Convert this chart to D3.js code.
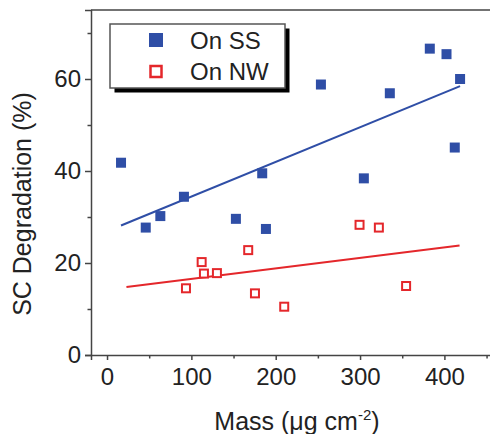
<!DOCTYPE html>
<html>
<head>
<meta charset="utf-8">
<script src="https://cdn.jsdelivr.net/npm/d3@7"></script>
<style>
  html, body { margin: 0; padding: 0; background: #fff; }
  svg { display: block; font-family: "Liberation Sans", Arial, sans-serif; }
</style>
</head>
<body>
<svg id="chart" width="490" height="434"></svg>
<script>
// values
const seriesNames = ["On SS", "On NW"];

const ssMass = [16.6, 45.9, 63.2, 91.2, 152.8, 184, 188.4, 253.6, 304.5, 335.3, 382.7, 402.5, 412.3, 418.6];
const ssDeg  = [41.8, 27.7, 30.2, 34.4, 29.6, 39.5, 27.4, 58.8, 38.4, 56.9, 66.6, 65.4, 45.1, 60.0];

const nwMass = [93.6, 112.2, 114.9, 130.3, 167.4, 175.4, 210.1, 299.4, 322.3, 354.6];
const nwDeg  = [14.5, 20.2, 17.7, 17.8, 22.8, 13.4, 10.5, 28.3, 27.7, 15.0];
const nwFitRange = [23, 418];

const xTicks = [0, 100, 200, 300, 400];
const xMinor = [50, 150, 250, 350, 450];
const yTicks = [0, 20, 40, 60];
const yMinor = [10, 30, 50, 70];

const blue = "#2f4ea6";
const red = "#e4272b";
const axisCol = "#444";

let svg = d3.select("#chart")

let x = d3.scaleLinear().domain([-19, 460]).range([91, 495])
let y = d3.scaleLinear().domain([0, 75]).range([355, 10])

// least squares fit
function fit(xs, ys) {
    let mx = d3.mean(xs), my = d3.mean(ys)
    let sxy = d3.sum(xs, (v, i) => (v - mx) * (ys[i] - my))
    let sxx = d3.sum(xs, v => (v - mx) * (v - mx))
    let b = sxy / sxx
    return v => my + b * (v - mx)
}

// frame top
svg.append("line")
    .attr("x1", x.range()[0]).attr("x2", x.range()[1])
    .attr("y1", y.range()[1]).attr("y2", y.range()[1])
    .attr("stroke", axisCol).attr("stroke-width", 1.5)

// axes
let xAxis = svg.append("g")
    .attr("transform", `translate(0,${y(0)})`)
    .call(d3.axisBottom(x).tickValues(xTicks).tickSizeOuter(0).tickSize(5).tickPadding(8))
let xAxisMinor = svg.append("g")
    .attr("transform", `translate(0,${y(0)})`)
    .call(d3.axisBottom(x).tickValues(xMinor).tickSize(3.5).tickFormat(""))
xAxisMinor.select(".domain").remove()

let yAxis = svg.append("g")
    .attr("transform", `translate(${x.range()[0]},0)`)
    .call(d3.axisLeft(y).tickValues(yTicks).tickSizeOuter(0).tickSize(6).tickPadding(4))
let yAxisMinor = svg.append("g")
    .attr("transform", `translate(${x.range()[0]},0)`)
    .call(d3.axisLeft(y).tickValues(yMinor).tickSize(3.5).tickFormat(""))
yAxisMinor.select(".domain").remove()

svg.selectAll(".domain, .tick line")
    .attr("stroke", axisCol).attr("stroke-width", 1.5)
svg.selectAll(".tick text")
    .attr("font-size", 24).attr("fill", "#222")
    .attr("font-family", "Liberation Sans, Arial, sans-serif")

// axis titles
svg.append("text")
    .attr("transform", "translate(31,204) rotate(-90)")
    .attr("text-anchor", "middle")
    .attr("font-size", 25).attr("fill", "#222")
    .text("SC Degradation (%)")

let xt = svg.append("text")
    .attr("x", 297).attr("y", 430)
    .attr("text-anchor", "middle")
    .attr("font-size", 25).attr("fill", "#222")
xt.append("tspan").text("Mass (\u03bcg cm")
xt.append("tspan").attr("font-size", 15).attr("dy", -10).text("-2")
xt.append("tspan").attr("dy", 10).text(")")

// fit lines
let ssFit = fit(ssMass, ssDeg)
let nwFit = fit(nwMass, nwDeg)
let ssRange = d3.extent(ssMass)

svg.append("line")
    .attr("x1", x(ssRange[0])).attr("y1", y(ssFit(ssRange[0])))
    .attr("x2", x(ssRange[1])).attr("y2", y(ssFit(ssRange[1])))
    .attr("stroke", blue).attr("stroke-width", 2)

svg.append("line")
    .attr("x1", x(nwFitRange[0])).attr("y1", y(nwFit(nwFitRange[0])))
    .attr("x2", x(nwFitRange[1])).attr("y2", y(nwFit(nwFitRange[1])))
    .attr("stroke", red).attr("stroke-width", 2)

// points
svg.append("g").selectAll("rect")
    .data(ssMass)
    .join("rect")
        .attr("x", d => x(d) - 5)
        .attr("y", (d, i) => y(ssDeg[i]) - 5)
        .attr("width", 10).attr("height", 10)
        .attr("fill", blue)

svg.append("g").selectAll("rect")
    .data(nwMass)
    .join("rect")
        .attr("x", d => x(d) - 4)
        .attr("y", (d, i) => y(nwDeg[i]) - 4)
        .attr("width", 8).attr("height", 8)
        .attr("fill", "#fff")
        .attr("stroke", red).attr("stroke-width", 2)

// legend
let lg = svg.append("g").attr("transform", "translate(110,24)")
lg.append("rect")
    .attr("x", 4.5).attr("y", 4.5).attr("width", 175).attr("height", 64)
    .attr("fill", "#000")
lg.append("rect")
    .attr("x", 0).attr("y", 0).attr("width", 175).attr("height", 64)
    .attr("fill", "#fff").attr("stroke", "#555").attr("stroke-width", 1.5)

lg.append("rect")
    .attr("x", 39).attr("y", 9).attr("width", 14).attr("height", 14)
    .attr("fill", blue)
lg.append("rect")
    .attr("x", 40.5).attr("y", 42).attr("width", 11).attr("height", 11)
    .attr("fill", "#fff").attr("stroke", red).attr("stroke-width", 2.5)

lg.selectAll("text.lbl")
    .data(seriesNames)
    .join("text")
        .attr("class", "lbl")
        .attr("x", 80)
        .attr("y", (d, i) => 16 + i * 31.5)
        .attr("dominant-baseline", "central")
        .attr("font-size", 24).attr("fill", "#222")
        .text(d => d)
</script>
</body>
</html>
